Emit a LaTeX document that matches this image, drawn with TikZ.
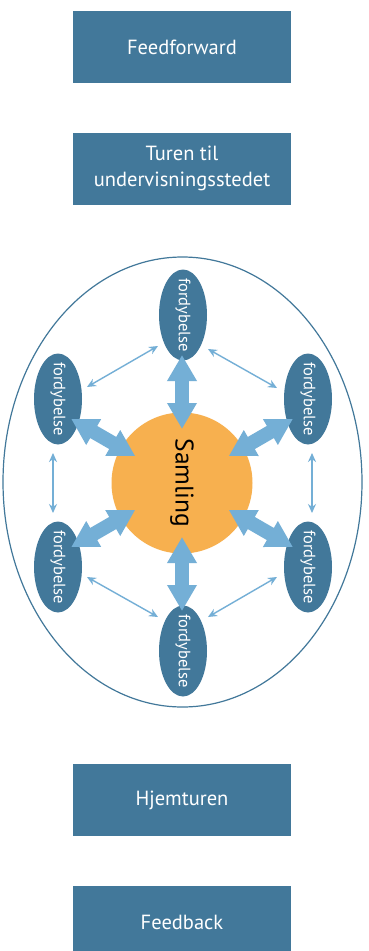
\documentclass[tikz,border=0pt]{standalone}
\usepackage{fontspec}
\setmainfont{PT Sans}
\usetikzlibrary{arrows.meta,shapes.geometric}
\definecolor{boxblue}{HTML}{42789A}
\definecolor{sunorange}{HTML}{F7B04F}
\definecolor{arrowblue}{HTML}{74AFD6}
\newcommand{\fordytext}{\makebox[0pt]{fordybelse}}
\begin{document}
\begin{tikzpicture}[x=1pt,y=-1pt,
  box/.style={fill=boxblue, text=white, minimum width=218pt, minimum height=72pt, inner sep=0pt, align=center, font=\fontsize{20.5}{26}\selectfont},
  fordy/.style={ellipse, fill=boxblue, text=white, minimum width=91pt, minimum height=48pt, inner sep=0pt, rotate=-90, font=\fontsize{16.5}{18}\selectfont},
  fat/.style={draw=arrowblue, line width=14pt, {Triangle[width=28pt,length=26pt]}-{Triangle[width=28pt,length=26pt]}},
  thinarr/.style={draw=arrowblue, line width=1.4pt, {Stealth[length=9pt,width=8pt]}-{Stealth[length=9pt,width=8pt]}}
]
\clip (0,0) rectangle (368,951);
\fill[white] (0,0) rectangle (368,951);

\node[box] (ff) at (182,47) {Feedforward};
\node[box] (tur) at (182,168.5) {Turen til\\undervisningsstedet};
\node[box] (hjem) at (182,800) {Hjemturen};
\node[box] (fb) at (182,922) {Feedback};

\node[ellipse, draw=boxblue, line width=1.2pt, minimum width=359pt, minimum height=450pt, inner sep=0pt] (outer) at (182.5,482) {};

\node[circle, fill=sunorange, minimum size=141pt, inner sep=0pt, rotate=-90, font=\fontsize{25.5}{28}\selectfont] (c) at (182,483) {Samling};

\node[fordy] (top) at (183,315) {\fordytext};
\node[fordy] (ul) at (58,399) {\fordytext};
\node[fordy] (ur) at (308,399) {\fordytext};
\node[fordy] (ll) at (58,567) {\fordytext};
\node[fordy] (lr) at (308,567) {\fordytext};
\node[fordy] (bot) at (183,651) {\fordytext};

% thick arrows
\draw[fat] ([shift={(-1,40)}]top.center) -- ([shift={(270:54)}]c.center);
\draw[fat] ([shift={(13.2,20)}]ul.center) -- ([shift={(210:54)}]c.center);
\draw[fat] ([shift={(-15.1,20)}]ur.center) -- ([shift={(330:54)}]c.center);
\draw[fat] ([shift={(13.2,-20)}]ll.center) -- ([shift={(150:54)}]c.center);
\draw[fat] ([shift={(-15.1,-20)}]lr.center) -- ([shift={(30:54)}]c.center);
\draw[fat] ([shift={(-1,-40)}]bot.center) -- ([shift={(90:54)}]c.center);

% thin arrows
\draw[thinarr] ([shift={(29,-12)}]ul.center) -- ([shift={(-25,31)}]top.center);
\draw[thinarr] ([shift={(25,34)}]top.center) -- ([shift={(-31,-11)}]ur.center);
\draw[thinarr] ([shift={(-5,54)}]ul.center) -- ([shift={(-5,-54)}]ll.center);
\draw[thinarr] ([shift={(4,54)}]ur.center) -- ([shift={(4,-54)}]lr.center);
\draw[thinarr] ([shift={(29,10)}]ll.center) -- ([shift={(-25,-34)}]bot.center);
\draw[thinarr] ([shift={(25,-34)}]bot.center) -- ([shift={(-31,10)}]lr.center);
\end{tikzpicture}
\end{document}
